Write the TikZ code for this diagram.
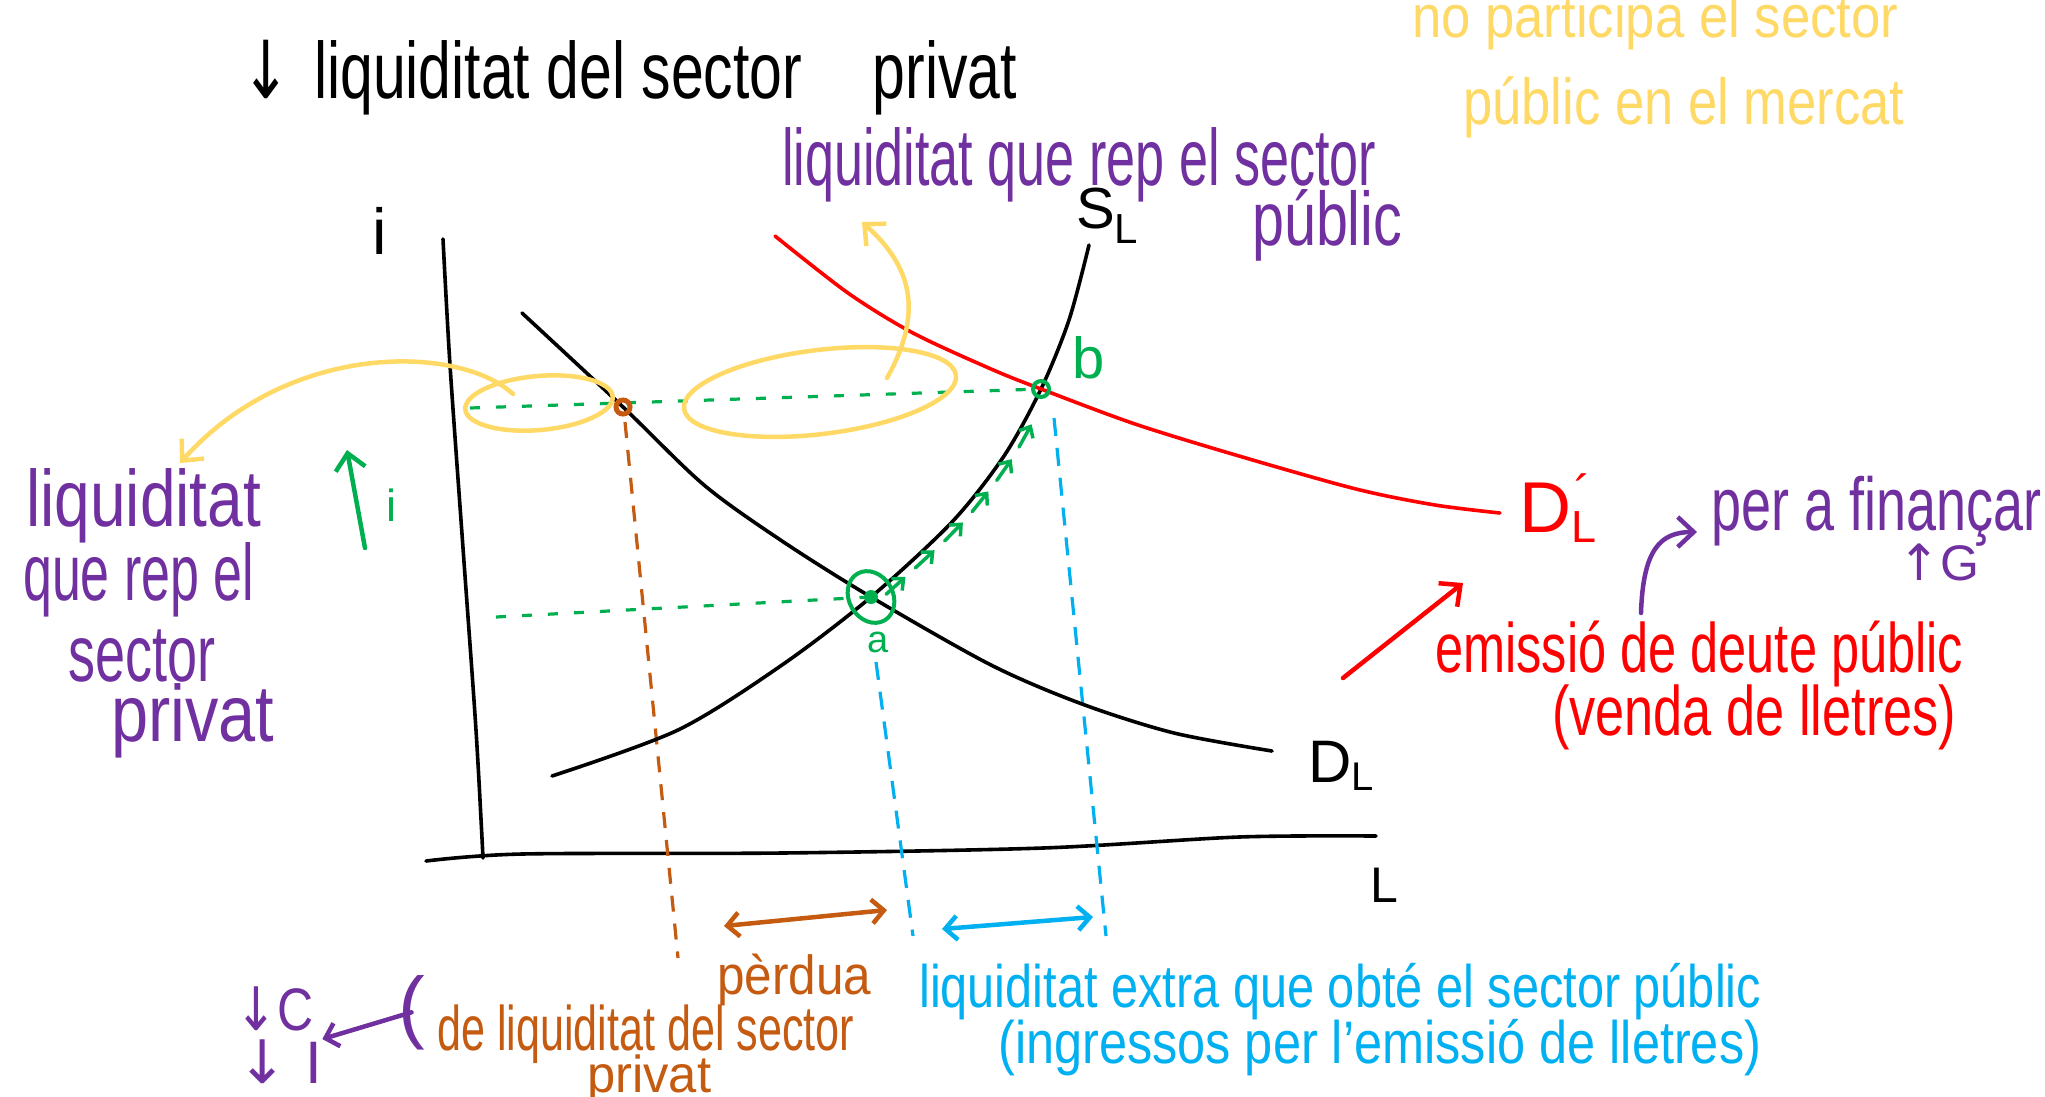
\documentclass[tikz,border=0pt]{standalone}
\usepackage{fontspec}
\usepackage{graphicx}
\setmainfont{Liberation Sans}
\newfontfamily\arrfont{DejaVu Sans}
\usetikzlibrary{arrows.meta,decorations.markings}
\definecolor{hpurple}{HTML}{7030A0}
\definecolor{hyellow}{HTML}{FFD966}
\definecolor{hgreen}{HTML}{00B050}
\definecolor{horange}{HTML}{C55A11}
\definecolor{hblue}{HTML}{00B0F0}
\definecolor{hred}{HTML}{FF0000}
\newcommand{\hw}[2]{\resizebox{#1}{\height}{#2}}
\newcommand{\fs}[1]{\fontsize{#1}{#1}\selectfont}
\begin{document}
\begin{tikzpicture}[x=1pt,y=-1pt,
  txt/.style={inner sep=0pt, anchor=base west},
  curve/.style={line width=3.6pt, line cap=round, line join=round},
  hand/.style={line width=4.5pt, line cap=round, line join=round},
  barb/.style={-{Straight Barb[length=16pt,width=30pt]}},
  dbarb/.style={{Straight Barb[length=12pt,width=24pt]}-{Straight Barb[length=12pt,width=24pt]}},
  gdash/.style={hgreen, line width=3.2pt, dash pattern=on 10pt off 16pt},
  odash/.style={horange, line width=3.2pt, dash pattern=on 16pt off 12pt},
  bdash/.style={hblue, line width=3.2pt, dash pattern=on 18pt off 12pt},
]
\useasboundingbox[fill=white] (0,0) rectangle (2045,1096);

% key points
\coordinate (a) at (871,597);
\coordinate (b) at (1041,389);
\coordinate (o) at (623,407);

% axes
\draw[curve] plot[smooth] coordinates {(443,239) (450,365) (463,548) (476,730) (483,858)};
\draw[curve] plot[smooth] coordinates {(426,861) (522,854) (782,853) (1043,848) (1239,837) (1376,836)};

% dashed guide lines
\coordinate (ib) at (470,408);
\coordinate (ia) at (496,617);
\draw[gdash] (ib) -- (b);
\draw[gdash] (ia) -- (a);
\coordinate (otop) at (625,422);
\coordinate (obot) at (678,958);
\draw[odash] (otop) -- (obot);
\coordinate (atop) at (876,662);
\coordinate (abot) at (913,936);
\draw[bdash] (atop) -- (abot);
\coordinate (btop) at (1054,418);
\coordinate (bbot) at (1106,936);
\draw[bdash] (btop) -- (bbot);

% curves
\draw[curve] plot[smooth] coordinates {(522,313) (623,407) (704,485) (782,541) (871,597) (991,665) (1082,704) (1174,733) (1272,751)};
\draw[curve] plot[smooth] coordinates {(552,776) (678,730) (782,665) (871,597) (952,522) (1004,456) (1041,389) (1069,320) (1089,245)};
\draw[curve, hred] plot[smooth] coordinates {(775,236) (848,293) (913,333) (991,369) (1041,389) (1135,424) (1239,456) (1356,489) (1435,505) (1500,513)};

% green small arrows along S_L
\path[decoration={markings, mark=between positions 0.1 and 0.97 step 0.145 with {\draw[hgreen, line width=3.5pt, line cap=round, -{Straight Barb[length=9pt,width=16pt]}] (-14pt,-8pt) -- (12pt,-8pt);}}, decorate]
  plot[smooth] coordinates {(871,597) (952,522) (1004,456) (1041,389)};

% points
\draw[hgreen, line width=4pt, rotate around={30:(a)}] (a) ellipse [x radius=22, y radius=27];
\fill[hgreen] (a) circle [radius=7];
\draw[hgreen, line width=4pt] (b) circle [radius=8];
\draw[horange, line width=5pt] (o) circle [radius=7];

% yellow ellipses and arrows
\draw[hyellow, hand, rotate around={5:(539,403)}] (539,403) ellipse [x radius=74, y radius=27];
\draw[hyellow, hand, rotate around={7:(820,392)}] (820,392) ellipse [x radius=137, y radius=42];
\coordinate (yl1) at (513,394);
\coordinate (yl2) at (180,463);
\draw[hyellow, hand, barb] (yl1) .. controls (460,345) and (290,340) .. (yl2);
\coordinate (yr1) at (887,378);
\coordinate (yr2) at (862,222);
\draw[hyellow, hand, barb] (yr1) .. controls (925,310) and (910,265) .. (yr2);

% green arrow up i
\coordinate (gi1) at (365,548);
\coordinate (gi2) at (347,450);
\draw[hgreen, hand, barb] (gi1) -- (gi2);

% double arrows
\coordinate (oa1) at (724,926);
\coordinate (oa2) at (887,910);
\draw[horange, hand, dbarb] (oa1) -- (oa2);
\coordinate (ba1) at (942,929);
\coordinate (ba2) at (1093,917);
\draw[hblue, hand, dbarb] (ba1) -- (ba2);

% red arrow
\coordinate (ra1) at (1343,678);
\coordinate (ra2) at (1463,583);
\draw[hred, hand, barb] (ra1) -- (ra2);

% purple curved arrow
\coordinate (pa1) at (1641,613);
\coordinate (pa2) at (1697,532);
\draw[hpurple, hand, barb] (pa1) .. controls (1643,550) and (1660,532) .. (pa2);

% texts
\node[txt, font=\fs{80}] (title) at (241,98) {\hw{776pt}{{\arrfont ↓}\hspace{0.4em}liquiditat del sector\hspace{1.2em}privat}};
\node[txt, text=hpurple, font=\fs{80}] (pubq) at (782,185) {\hw{594pt}{liquiditat que rep el sector}};
\node[txt, text=hpurple, font=\fs{76}] (pubp) at (1252,245) {\hw{150pt}{públic}};
\node[txt, text=hyellow, font=\fs{60}] (y1) at (1412,37) {\hw{486pt}{no participa el sector}};
\node[txt, text=hyellow, font=\fs{65}] (y2) at (1463,124) {\hw{441pt}{públic en el mercat}};

\node[txt, text=hpurple, font=\fs{80}] (lp1) at (26,526) {\hw{235pt}{liquiditat}};
\node[txt, text=hpurple, font=\fs{80}] (lp2) at (23,600) {\hw{231pt}{que rep el}};
\node[txt, text=hpurple, font=\fs{80}] (lp3) at (68,681) {\hw{147pt}{sector}};
\node[txt, text=hpurple, font=\fs{80}] (lp4) at (111,741) {\hw{163pt}{privat}};

\node[txt, text=hred, font=\fs{70}] (r1) at (1435,672) {\hw{528pt}{emissió de deute públic}};
\node[txt, text=hred, font=\fs{70}] (r2) at (1552,735) {\hw{404pt}{(venda de lletres)}};

\node[txt, text=hpurple, font=\fs{75}] (fin) at (1711,530) {\hw{330pt}{per a finançar}};
\node[txt, text=hpurple, font=\fs{50}] (G) at (1898,580) {{\arrfont ↑}G};

\node[txt, text=horange, font=\fs{55}] (o1) at (717,994) {\hw{154pt}{pèrdua}};
\node[txt, text=horange, font=\fs{63}] (o2) at (437,1050) {\hw{417pt}{de liquiditat del sector}};
\node[txt, text=horange, font=\fs{52}] (o3) at (587,1092) {\hw{124pt}{privat}};

\node[txt, text=hblue, font=\fs{60}] (bl1) at (919,1007) {\hw{842pt}{liquiditat extra que obté el sector públic}};
\node[txt, text=hblue, font=\fs{60}] (bl2) at (998,1063) {\hw{763pt}{(ingressos per l'emissió de lletres)}};

\node[txt, text=hpurple, font=\fs{60}] (cc) at (235,1030) {\hw{78pt}{{\arrfont ↓}C}};
\node[txt, text=hpurple, font=\fs{60}] (ci) at (237,1083) {{\arrfont ↓}\hspace{0.3em}I};
\node[txt, text=hpurple, font=\fs{80}] (paren) at (398,1033) {(};
\draw[hpurple, hand, -{Straight Barb[length=12pt,width=24pt]}] (paren.center) -- (ci.north east);

% labels
\node[txt, font=\fs{65}] (ilab) at (372,254) {i};
\node[txt, font=\fs{50}] (Llab) at (1370,902) {L};
\node[txt, font=\fs{58}] (SL) at (1076,228) {S\raisebox{-15pt}{\fs{42}L}};
\node[txt, font=\fs{60}] (DL) at (1308,782) {D\raisebox{-8pt}{\fs{40}L}};
\node[txt, text=hred, font=\fs{72}] (DLp) at (1519,532) {D\rlap{\raisebox{22pt}{\fs{50}\kern3pt ´}}\raisebox{-10pt}{\fs{45}L}};
\node[txt, text=hgreen, font=\fs{38}] (alab) at (867,652) {a};
\node[txt, text=hgreen, font=\fs{58}] (blab) at (1072,378) {b};
\node[txt, text=hgreen, font=\fs{45}] (gi) at (386,521) {i};
\end{tikzpicture}
\end{document}
